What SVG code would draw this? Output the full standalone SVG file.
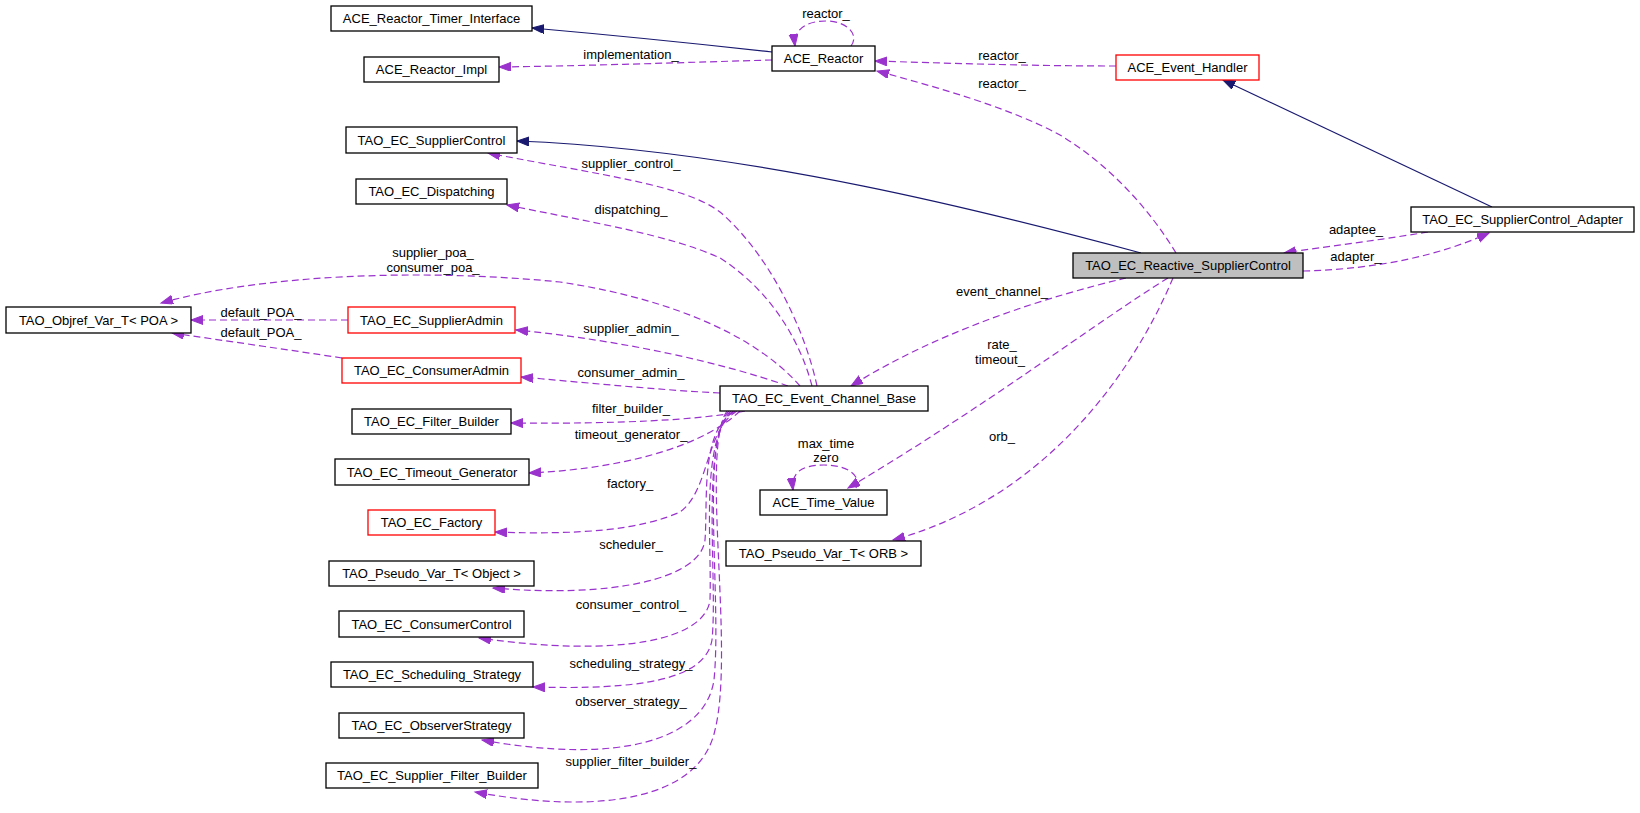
<svg xmlns="http://www.w3.org/2000/svg" width="1640" height="813" viewBox="0 0 1640 813">
<style>
  text { font-family: "Liberation Sans", Arial, sans-serif; font-size: 13px; fill: #000; }
  .node rect { fill: #fff; stroke: #000; stroke-width: 1.3; }
  .node.red rect { stroke: #ff0000; }
  .node.cur rect { fill: #bfbfbf; }
  .node text { text-anchor: middle; }
  .inh { fill: none; stroke: #191970; stroke-width: 1.2; marker-end: url(#an); }
  .use { fill: none; stroke: #9a32cd; stroke-width: 1.2; stroke-dasharray: 7,4; marker-end: url(#ap); }
  .lbl { text-anchor: middle; }
</style>
<defs>
  <marker id="an" markerUnits="userSpaceOnUse" markerWidth="14" markerHeight="11" refX="12" refY="4.5" orient="auto">
    <path d="M0,0 L12,4.5 L0,9 z" fill="#191970" stroke="#191970" stroke-width="1"/>
  </marker>
  <marker id="ap" markerUnits="userSpaceOnUse" markerWidth="14" markerHeight="11" refX="12" refY="4.5" orient="auto">
    <path d="M0,0 L12,4.5 L0,9 z" fill="#9a32cd" stroke="#9a32cd" stroke-width="1"/>
  </marker>
</defs>
<rect width="1640" height="813" fill="#fff"/>

<g id="connectors">
  <path class="inh" d="M772,52 C700,44 600,34 532,28"/>
  <path class="use" d="M772,60 C700,62 580,66 499,67"/>
  <path class="use" d="M851,46 C860,34 846,21 826,21 C806,21 793,30 795,46"/>
  <path class="use" d="M1116,66 C1030,66 940,63 875,61"/>
  <path class="use" d="M1176,253 C1150,210 1110,165 1060,135 C1010,108 940,88 877,71"/>
  <path class="inh" d="M1141,253 C1000,215 750,150 517,141"/>
  <path class="inh" d="M1492,207 L1223,80"/>
  <path class="use" d="M1428,232 C1380,240 1330,246 1284,253"/>
  <path class="use" d="M1303,271 C1380,269 1440,255 1489,233"/>
  <path class="use" d="M1126,278 C1050,296 940,330 851,386"/>
  <path class="use" d="M1168,278 C1100,320 980,410 848,488"/>
  <path class="use" d="M1173,278 C1130,380 1040,500 893,540"/>
  <path class="use" d="M817,386 C805,330 770,255 720,212 C685,185 600,175 488,153"/>
  <path class="use" d="M812,386 C800,340 770,290 720,258 C670,235 590,222 507,205"/>
  <path class="use" d="M800,386 C760,340 680,300 560,282 C420,268 260,275 161,303"/>
  <path class="use" d="M348,320 L191,320"/>
  <path class="use" d="M342,358 C290,350 220,340 172,333"/>
  <path class="use" d="M788,386 C720,362 620,340 516,330"/>
  <path class="use" d="M720,393 C660,390 590,383 521,377"/>
  <path class="use" d="M745,411 C700,420 620,424 511,423"/>
  <path class="use" d="M740,411 C710,440 640,468 529,473"/>
  <path class="use" d="M737,411 C705,430 710,490 680,512 C640,530 580,535 495,532"/>
  <path class="use" d="M735,411 C700,430 708,500 705,540 C700,580 610,598 493,588"/>
  <path class="use" d="M733,411 C700,440 712,540 710,600 C705,640 620,658 479,638"/>
  <path class="use" d="M731,411 C700,440 718,580 712,640 C705,680 640,690 533,687"/>
  <path class="use" d="M729,411 C700,440 722,600 714,680 C705,740 620,765 482,740"/>
  <path class="use" d="M727,411 C700,450 735,650 715,730 C700,800 600,815 475,792"/>
  <path class="use" d="M856,488 C862,476 848,465 824,465 C802,465 791,472 793,490"/>

  <text class="lbl" x="826" y="17.5">reactor_</text>
  <text class="lbl" x="631" y="58.5">implementation_</text>
  <text class="lbl" x="1002" y="59.5">reactor_</text>
  <text class="lbl" x="1002" y="87.5">reactor_</text>
  <text class="lbl" x="631" y="167.5">supplier_control_</text>
  <text class="lbl" x="631" y="213.5">dispatching_</text>
  <text class="lbl" x="433" y="256.5">supplier_poa_</text>
  <text class="lbl" x="433" y="271.5">consumer_poa_</text>
  <text class="lbl" x="261" y="316.5">default_POA_</text>
  <text class="lbl" x="261" y="336.5">default_POA_</text>
  <text class="lbl" x="631" y="332.5">supplier_admin_</text>
  <text class="lbl" x="631" y="376.5">consumer_admin_</text>
  <text class="lbl" x="631" y="412.5">filter_builder_</text>
  <text class="lbl" x="631" y="438.5">timeout_generator_</text>
  <text class="lbl" x="630" y="487.5">factory_</text>
  <text class="lbl" x="631" y="548.5">scheduler_</text>
  <text class="lbl" x="631" y="608.5">consumer_control_</text>
  <text class="lbl" x="631" y="667.5">scheduling_strategy_</text>
  <text class="lbl" x="631" y="705.5">observer_strategy_</text>
  <text class="lbl" x="631" y="765.5">supplier_filter_builder_</text>
  <text class="lbl" x="1002" y="295.5">event_channel_</text>
  <text class="lbl" x="1002" y="348.5">rate_</text>
  <text class="lbl" x="1000" y="363.5">timeout_</text>
  <text class="lbl" x="1002" y="440.5">orb_</text>
  <text class="lbl" x="826" y="447.5">max_time</text>
  <text class="lbl" x="826" y="461.5">zero</text>
  <text class="lbl" x="1356" y="233.5">adaptee_</text>
  <text class="lbl" x="1356" y="260.5">adapter_</text>
</g>

<g id="n_timer" class="node"><rect x="331" y="6" width="201" height="25"/><text x="431.5" y="23">ACE_Reactor_Timer_Interface</text></g>
<g id="n_impl" class="node"><rect x="364" y="57" width="135" height="25"/><text x="431.5" y="74">ACE_Reactor_Impl</text></g>
<g id="n_reactor" class="node"><rect x="772" y="46" width="103" height="25"/><text x="823.5" y="63">ACE_Reactor</text></g>
<g id="n_evh" class="node red"><rect x="1116" y="55" width="143" height="25"/><text x="1187.5" y="72">ACE_Event_Handler</text></g>
<g id="n_supctl" class="node"><rect x="346" y="127" width="171" height="26"/><text x="431.5" y="144.5">TAO_EC_SupplierControl</text></g>
<g id="n_disp" class="node"><rect x="356" y="179" width="151" height="25"/><text x="431.5" y="196">TAO_EC_Dispatching</text></g>
<g id="n_reactive" class="node cur"><rect x="1073" y="253" width="230" height="25"/><text x="1188" y="270">TAO_EC_Reactive_SupplierControl</text></g>
<g id="n_adapter" class="node"><rect x="1411" y="207" width="223" height="25"/><text x="1522.5" y="224">TAO_EC_SupplierControl_Adapter</text></g>
<g id="n_objref" class="node"><rect x="6" y="307" width="185" height="26"/><text x="98.5" y="324.5">TAO_Objref_Var_T&lt; POA &gt;</text></g>
<g id="n_supadm" class="node red"><rect x="348" y="307" width="167" height="26"/><text x="431.5" y="324.5">TAO_EC_SupplierAdmin</text></g>
<g id="n_conadm" class="node red"><rect x="342" y="358" width="179" height="25"/><text x="431.5" y="375">TAO_EC_ConsumerAdmin</text></g>
<g id="n_ecb" class="node"><rect x="720" y="386" width="208" height="25"/><text x="824" y="403">TAO_EC_Event_Channel_Base</text></g>
<g id="n_fb" class="node"><rect x="352" y="409" width="159" height="25"/><text x="431.5" y="426">TAO_EC_Filter_Builder</text></g>
<g id="n_tg" class="node"><rect x="335" y="459" width="194" height="26"/><text x="432" y="476.5">TAO_EC_Timeout_Generator</text></g>
<g id="n_fac" class="node red"><rect x="368" y="510" width="127" height="25"/><text x="431.5" y="527">TAO_EC_Factory</text></g>
<g id="n_tv" class="node"><rect x="760" y="490" width="127" height="25"/><text x="823.5" y="507">ACE_Time_Value</text></g>
<g id="n_porb" class="node"><rect x="726" y="541" width="195" height="25"/><text x="823.5" y="558">TAO_Pseudo_Var_T&lt; ORB &gt;</text></g>
<g id="n_pobj" class="node"><rect x="329" y="561" width="205" height="25"/><text x="431.5" y="578">TAO_Pseudo_Var_T&lt; Object &gt;</text></g>
<g id="n_cc" class="node"><rect x="339" y="611" width="185" height="26"/><text x="431.5" y="628.5">TAO_EC_ConsumerControl</text></g>
<g id="n_ss" class="node"><rect x="331" y="662" width="202" height="25"/><text x="432" y="679">TAO_EC_Scheduling_Strategy</text></g>
<g id="n_os" class="node"><rect x="339" y="713" width="185" height="25"/><text x="431.5" y="730">TAO_EC_ObserverStrategy</text></g>
<g id="n_sfb" class="node"><rect x="326" y="763" width="212" height="25"/><text x="432" y="780">TAO_EC_Supplier_Filter_Builder</text></g>
</svg>
